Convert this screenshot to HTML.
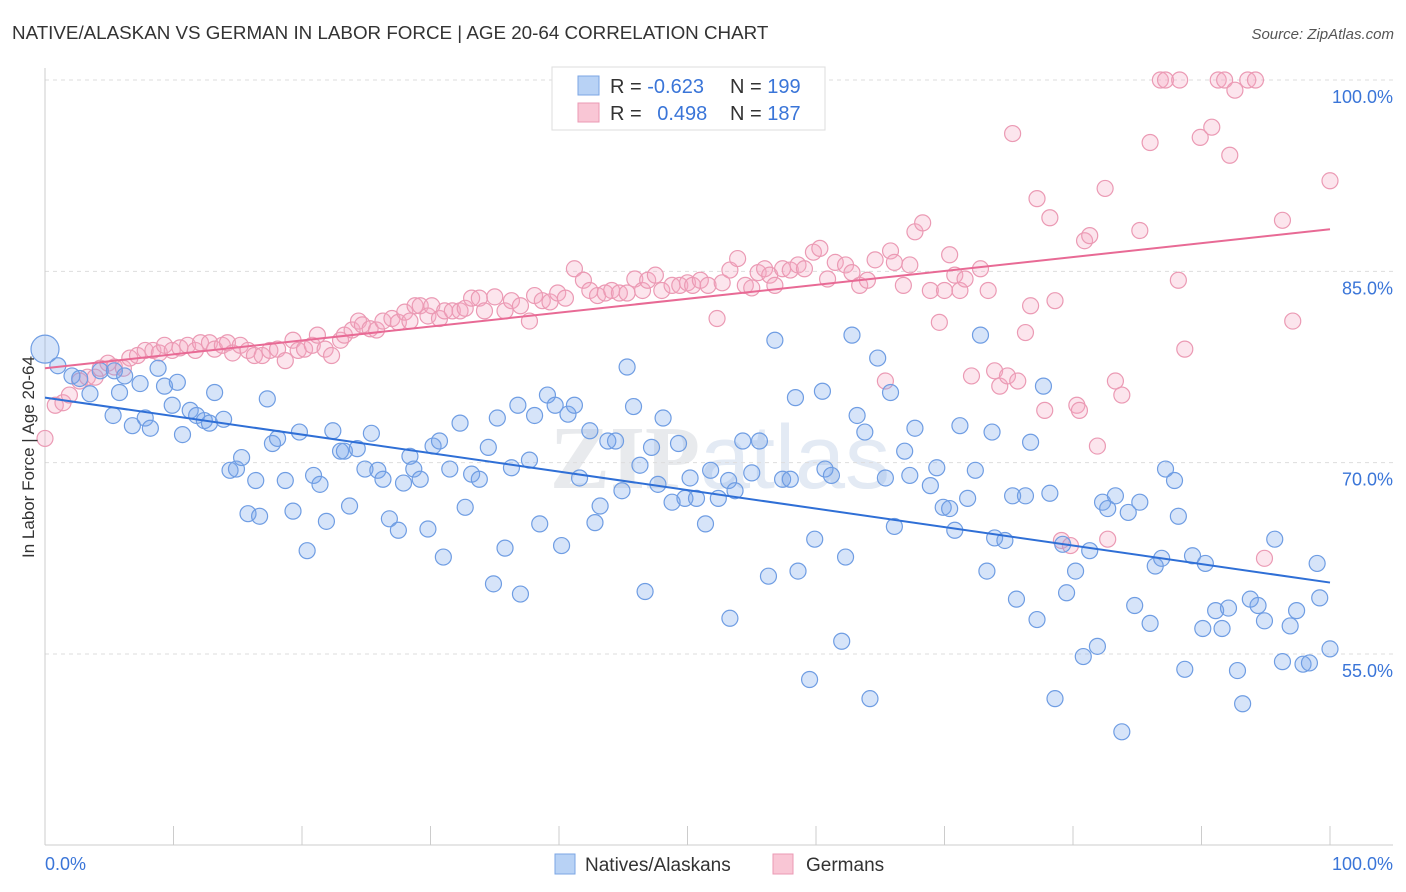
<!DOCTYPE html>
<html><head><meta charset="utf-8">
<style>
body{margin:0;background:#fff;font-family:"Liberation Sans",sans-serif;}
svg{display:block}
</style></head>
<body>
<svg id="chart" width="1406" height="892" xmlns="http://www.w3.org/2000/svg">
<text x="12" y="39" font-size="18.8" fill="#333">NATIVE/ALASKAN VS GERMAN IN LABOR FORCE | AGE 20-64 CORRELATION CHART</text>
<text x="1394" y="39" font-size="15" fill="#555" font-style="italic" text-anchor="end">Source: ZipAtlas.com</text>
<text x="720" y="488" font-size="90" fill="#e8eaed" text-anchor="middle" font-weight="bold" font-family="Liberation Serif,serif">ZIP<tspan font-weight="normal" font-family="Liberation Sans,sans-serif" fill="#e3eaf4">atlas</tspan></text>
<g id="grid"></g>
<g id="axes"></g>
<g id="pinkpts"></g>
<g id="bluepts"></g>
<g id="lines"></g>
<text transform="translate(34,457) rotate(-90)" font-size="17" fill="#333" text-anchor="middle">In Labor Force | Age 20-64</text>
<g>
<rect x="552" y="67" width="273" height="63" fill="#fff" stroke="#ddd"/>
<rect x="578" y="76" width="21" height="19" fill="#b8d2f5" stroke="#7ba6e4"/>
<rect x="578" y="103" width="21" height="19" fill="#f9c6d5" stroke="#eb9ab4"/>
<text x="610" y="93" font-size="20" fill="#333">R = <tspan fill="#3a75d8">-0.623</tspan></text>
<text x="730" y="93" font-size="20" fill="#333">N = <tspan fill="#3a75d8">199</tspan></text>
<text x="610" y="120" font-size="20" fill="#333">R = <tspan fill="#3a75d8" dx="10">0.498</tspan></text>
<text x="730" y="120" font-size="20" fill="#333">N = <tspan fill="#3a75d8">187</tspan></text>
</g>
<g>
<rect x="555" y="854" width="20" height="20" fill="#b8d2f5" stroke="#7ba6e4"/>
<text x="585" y="871" font-size="19" fill="#333">Natives/Alaskans</text>
<rect x="773" y="854" width="20" height="20" fill="#f9c6d5" stroke="#eb9ab4"/>
<text x="806" y="871" font-size="19" fill="#333">Germans</text>
</g>
</svg>
<script>
const yTicks=[55,70,85,100];
const yTickLabels=["55.0%","70.0%","85.0%","100.0%"];
const xTicks=[0,10,20,30,40,50,60,70,80,90,100];
const blueTrend=[75.1,60.6];
const pinkTrend=[77.4,88.3];
const blueX=[0,1.0,2.1,2.7,3.5,4.3,5.4,6.2,5.3,5.8,7.4,6.8,7.8,8.2,8.8,9.3,9.9,10.3,10.7,11.3,11.8,12.4,12.8,13.2,13.9,14.4,14.9,15.3,15.8,16.4,16.7,17.3,17.7,18.1,18.7,19.3,19.8,20.4,20.9,21.4,21.9,22.4,23.0,23.3,23.7,24.3,24.9,25.4,25.9,26.3,26.8,27.5,27.9,28.4,28.7,29.2,29.8,30.2,30.7,31.0,31.5,32.3,32.7,33.2,33.8,34.5,34.9,35.2,35.8,36.3,36.8,37.0,37.7,38.1,38.5,39.1,39.7,40.2,40.7,41.2,41.6,42.4,42.8,43.2,43.8,44.4,44.9,45.3,45.8,46.3,46.7,47.2,47.7,48.1,48.8,49.3,49.8,50.2,50.7,51.4,51.8,52.4,53.2,53.3,53.7,54.3,55.0,55.6,56.3,56.8,57.4,58.0,58.4,58.6,59.5,59.9,60.5,60.7,61.2,62.0,62.3,62.8,63.2,63.8,64.2,64.8,65.4,65.8,66.1,66.9,67.3,67.7,68.9,69.4,69.9,70.4,70.8,71.2,71.8,72.4,72.8,73.3,73.7,73.9,74.7,75.6,75.3,76.3,76.7,77.2,77.7,78.2,78.6,79.2,79.5,80.2,80.8,81.3,81.9,82.3,82.7,83.3,83.8,84.3,84.8,85.2,86.0,86.4,86.9,87.2,87.9,88.2,88.7,89.3,90.1,90.3,91.1,91.6,92.1,92.8,93.2,93.8,94.4,94.9,95.7,96.3,96.9,97.4,97.9,98.4,99.0,99.2,100];
const blueY=[78.9,77.6,76.8,76.6,75.4,77.2,77.2,76.8,73.7,75.5,76.2,72.9,73.5,72.7,77.4,76.0,74.5,76.3,72.2,74.1,73.7,73.3,73.1,75.5,73.4,69.4,69.5,70.4,66.0,68.6,65.8,75.0,71.5,71.9,68.6,66.2,72.4,63.1,69.0,68.3,65.4,72.5,70.9,70.9,66.6,71.1,69.5,72.3,69.4,68.7,65.6,64.7,68.4,70.5,69.5,68.7,64.8,71.3,71.7,62.6,69.5,73.1,66.5,69.1,68.7,71.2,60.5,73.5,63.3,69.6,74.5,59.7,70.2,73.7,65.2,75.3,74.5,63.5,73.8,74.5,68.8,72.5,65.3,66.6,71.7,71.7,67.8,77.5,74.4,69.8,59.9,71.2,68.3,73.5,66.9,71.5,67.2,68.8,67.2,65.2,69.4,67.2,68.6,57.8,67.8,71.7,69.2,71.7,61.1,79.6,68.7,68.7,75.1,61.5,53.0,64.0,75.6,69.5,69.0,56.0,62.6,80.0,73.7,72.4,51.5,78.2,68.8,75.5,65.0,70.9,69.0,72.7,68.2,69.6,66.5,66.4,64.7,72.9,67.2,69.4,80.0,61.5,72.4,64.1,63.9,59.3,67.4,67.4,71.6,57.7,76.0,67.6,51.5,63.6,59.8,61.5,54.8,63.1,55.6,66.9,66.4,67.4,48.9,66.1,58.8,66.9,57.4,61.9,62.5,69.5,68.6,65.8,53.8,62.7,57.0,62.1,58.4,57.0,58.6,53.7,51.1,59.3,58.8,57.6,64.0,54.4,57.2,58.4,54.2,54.3,62.1,59.4,55.4];
const pinkX=[0,0.8,1.4,1.9,2.7,3.3,3.9,4.3,4.9,5.4,6.1,6.6,7.2,7.8,8.4,8.9,9.3,9.9,10.5,11.1,11.7,12.1,12.8,13.2,13.8,14.2,14.6,15.2,15.8,16.3,16.9,17.5,18.1,18.7,19.3,19.7,20.2,20.8,21.2,21.8,22.3,23.0,23.3,23.9,24.4,24.7,25.3,25.8,26.3,27.0,27.5,28.0,28.4,28.8,29.2,29.8,30.1,30.7,31.1,31.7,32.3,32.7,33.2,33.8,34.2,35.0,35.8,36.3,37.0,37.7,38.1,38.7,39.3,39.9,40.5,41.2,41.9,42.4,43.0,43.6,44.1,44.7,45.3,45.9,46.5,46.9,47.5,48.0,48.8,49.4,50.0,50.4,51.0,51.6,52.3,52.7,53.3,53.9,54.5,55.0,55.5,56.0,56.4,56.8,57.4,58.0,58.6,59.1,59.8,60.3,60.9,61.5,62.3,62.8,63.4,64.0,64.6,65.4,65.8,66.1,66.8,67.3,67.7,68.3,68.9,69.6,70.0,70.4,70.8,71.2,71.6,72.1,72.8,73.4,73.9,74.3,74.9,75.3,75.7,76.3,76.7,77.2,77.8,78.2,78.6,79.1,79.8,80.3,80.5,80.9,81.3,81.9,82.5,82.7,83.3,83.8,85.2,86.0,86.8,87.2,88.2,88.3,88.7,89.9,90.8,91.3,91.8,92.2,92.6,93.6,94.2,94.9,96.3,97.1,100];
const pinkY=[71.9,74.5,74.7,75.3,76.4,76.7,76.7,77.4,77.8,77.5,77.4,78.2,78.4,78.8,78.8,78.6,79.2,78.8,79.0,79.2,78.8,79.4,79.4,78.9,79.2,79.4,78.6,79.2,78.8,78.4,78.4,78.8,78.9,78.0,79.6,78.8,78.9,79.2,80.0,78.9,78.4,79.6,80.0,80.4,81.1,80.8,80.5,80.4,81.1,81.3,81.0,81.8,81.1,82.3,82.3,81.5,82.3,81.3,81.9,81.9,81.9,82.1,82.9,82.9,81.9,83.0,81.9,82.7,82.3,81.1,83.1,82.7,82.6,83.3,82.9,85.2,84.3,83.5,83.1,83.3,83.5,83.3,83.3,84.4,83.5,84.3,84.7,83.5,83.9,83.9,84.1,83.9,84.3,83.9,81.3,84.1,85.1,86.0,83.9,83.7,84.9,85.2,84.7,83.9,85.2,85.1,85.5,85.2,86.5,86.8,84.4,85.7,85.5,84.9,83.9,84.3,85.9,76.4,86.6,85.7,83.9,85.5,88.1,88.8,83.5,81.0,83.5,86.3,84.7,83.5,84.4,76.8,85.2,83.5,77.2,76.0,76.8,95.8,76.4,80.2,82.3,90.7,74.1,89.2,82.7,63.9,63.5,74.5,74.1,87.4,87.8,71.3,91.5,64.0,76.4,75.3,88.2,95.1,100,100,84.3,100,78.9,95.5,96.3,100,100,94.1,99.2,100,100,62.5,89.0,81.1,92.1];

const NS='http://www.w3.org/2000/svg';
const L=45,R=1330,T=80,B=845;
function xs(v){return L+(R-L)*v/100;}
function ys(v){return T+(100-v)*(654-T)/45;}
function mk(tag,attrs,parent){const e=document.createElementNS(NS,tag);for(const k in attrs)e.setAttribute(k,attrs[k]);parent.appendChild(e);return e;}
const grid=document.getElementById('grid'),axes=document.getElementById('axes');
yTicks.forEach((t,i)=>{
  const g=mk('line',{x1:L,x2:1393,y1:ys(t),y2:ys(t),stroke:'#ddd','stroke-dasharray':'4,4'},grid);
  
  
  const tx=mk('text',{x:1393,y:ys(t)+23,'font-size':18,fill:'#3a75d8','text-anchor':'end'},axes);
  tx.textContent=yTickLabels[i];
  
  
});
const ax=mk('line',{x1:L,x2:1393,y1:B,y2:B,stroke:'#ccc'},axes);


const ay=mk('line',{x1:L,x2:L,y1:68,y2:B,stroke:'#ccc'},axes);


xTicks.forEach(t=>{
  const tk=mk('line',{x1:xs(t),x2:xs(t),y1:826,y2:B,stroke:'#ccc'},axes);
  
  
});
const x0=mk('text',{x:45,y:870,'font-size':18,fill:'#3a75d8'},axes);x0.textContent='0.0%';


const x1=mk('text',{x:1393,y:870,'font-size':18,fill:'#3a75d8','text-anchor':'end'},axes);x1.textContent='100.0%';


const pg=document.getElementById('pinkpts'),bg=document.getElementById('bluepts');
pinkX.forEach((x,i)=>{
  const c=mk('circle',{cx:xs(x),cy:ys(pinkY[i]),r:8,fill:'rgba(246,170,196,0.3)',stroke:'#eb9ab4','stroke-width':1.2},pg);
  
  
});
blueX.forEach((x,i)=>{
  const c=mk('circle',{cx:xs(x),cy:ys(blueY[i]),r:i===0?14:8,fill:'rgba(120,165,235,0.3)',stroke:'#6f9de3','stroke-width':1.2},bg);
  
  
});
const lg=document.getElementById('lines');
const bl=mk('line',{x1:xs(0),y1:ys(blueTrend[0]),x2:xs(100),y2:ys(blueTrend[1]),stroke:'#2f6fd6','stroke-width':2},lg);


const pl=mk('line',{x1:xs(0),y1:ys(pinkTrend[0]),x2:xs(100),y2:ys(pinkTrend[1]),stroke:'#e86a95','stroke-width':2},lg);


</script>
</body></html>
